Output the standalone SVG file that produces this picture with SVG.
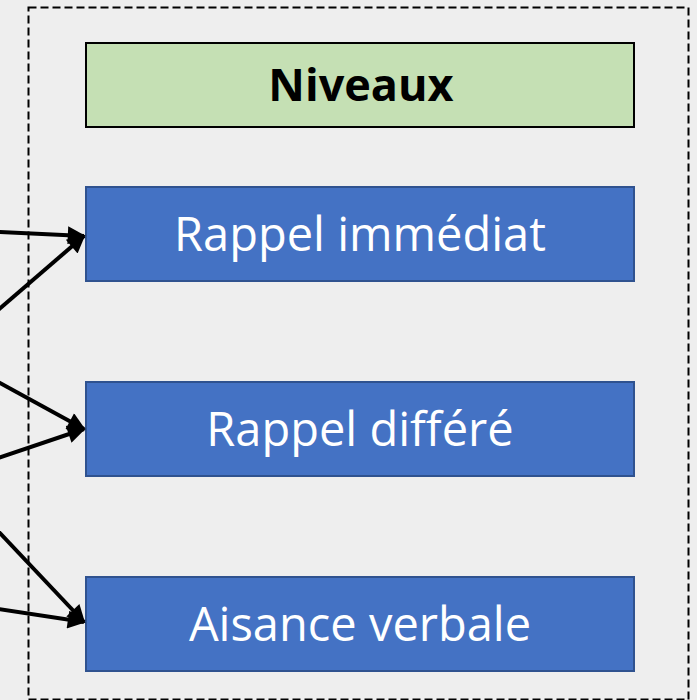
<svg xmlns="http://www.w3.org/2000/svg" width="697" height="700" viewBox="0 0 697 700">
<defs>
<style>
.lvl{fill:#4472c4;stroke:#2f528f;stroke-width:2}
.lt{font-family:"Open Sans","Noto Sans",sans-serif;font-size:47px;fill:#ffffff;text-anchor:middle}
.conn{stroke:#000;stroke-width:4;fill:none;marker-end:url(#ah)}
</style>
<marker id="ah" viewBox="0 0 10 10" refX="9" refY="5" markerWidth="5" markerHeight="4.5" orient="auto" markerUnits="strokeWidth">
<path d="M0,0 L10,5 L0,10 Z" fill="#000"/>
</marker>
</defs>
<rect x="0" y="0" width="697" height="700" fill="#eeeeee"/>
<rect id="frame" x="28.5" y="7.5" width="660" height="692" fill="none" stroke="#000" stroke-width="2" stroke-dasharray="8,4"/>
<g id="header">
<rect x="86" y="43" width="548" height="84" fill="#c5e0b4" stroke="#000" stroke-width="2"/>
<text x="361" y="101" font-family="'Open Sans','Noto Sans',sans-serif" font-size="45" font-weight="bold" text-anchor="middle" fill="#000">Niveaux</text>
</g>
<g id="rappel-immediat">
<rect class="lvl" x="86" y="187" width="548" height="94"/>
<text class="lt" x="360" y="251">Rappel immédiat</text>
</g>
<g id="rappel-differe">
<rect class="lvl" x="86" y="382" width="548" height="94"/>
<text class="lt" x="360" y="446">Rappel différé</text>
</g>
<g id="aisance-verbale">
<rect class="lvl" x="86" y="577" width="548" height="94"/>
<text class="lt" x="360" y="641">Aisance verbale</text>
</g>
<g id="connectors">
<line class="conn" x1="-2" y1="232" x2="84" y2="236"/>
<line class="conn" x1="-2" y1="310" x2="84" y2="236"/>
<line class="conn" x1="-2" y1="382" x2="84" y2="429"/>
<line class="conn" x1="-2" y1="458" x2="84" y2="429"/>
<line class="conn" x1="-2" y1="531" x2="84" y2="622"/>
<line class="conn" x1="-2" y1="609" x2="84" y2="622"/>
</g>
</svg>
